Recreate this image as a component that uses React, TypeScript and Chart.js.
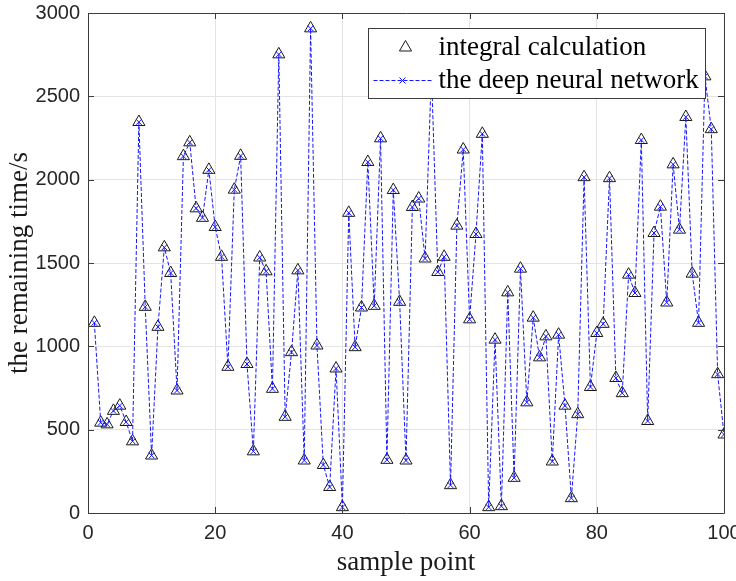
import React, { useEffect, useRef } from 'react';
import { Chart, registerables } from 'chart.js';

Chart.register(...registerables);

// Remaining time (s) from integral calculation, sample points 1..100
const integralValues: number[] = [
  1141, 542, 532, 613, 644, 546, 430, 2346, 1237, 345,
  1117, 1594, 1440, 735, 2141, 2224, 1828, 1771, 2059, 1716,
  1537, 877, 1940, 2143, 894, 370, 1533, 1450, 745, 2752,
  577, 965, 1456, 315, 2908, 1005, 288, 156, 867, 35,
  1801, 995, 1233, 2106, 1243, 2248, 319, 1938, 1267, 315,
  1836, 1887, 1527, 2650, 1446, 1537, 167, 1724, 2181, 1162,
  1674, 2275, 35, 1040, 41, 1324, 211, 1466, 664, 1172,
  934, 1060, 309, 1070, 644, 89, 593, 2015, 756, 1080,
  1135, 2009, 810, 719, 1430, 1320, 2238, 552, 1680, 1838,
  1263, 2092, 1700, 2376, 1436, 1141, 2620, 2303, 833, 471,
];

// Remaining time (s) predicted by the deep neural network
const networkValues: number[] = [
  1141, 542, 532, 613, 644, 546, 430, 2346, 1237, 345,
  1117, 1594, 1440, 735, 2141, 2224, 1828, 1771, 2059, 1716,
  1537, 877, 1940, 2143, 894, 370, 1533, 1450, 745, 2752,
  577, 965, 1456, 315, 2908, 1005, 288, 156, 867, 35,
  1801, 995, 1233, 2106, 1243, 2248, 319, 1938, 1267, 315,
  1836, 1887, 1527, 2650, 1446, 1537, 167, 1724, 2181, 1162,
  1674, 2275, 35, 1040, 41, 1324, 211, 1466, 664, 1172,
  934, 1060, 309, 1070, 644, 89, 593, 2015, 756, 1080,
  1135, 2009, 810, 719, 1430, 1320, 2238, 552, 1680, 1838,
  1263, 2092, 1700, 2376, 1436, 1141, 2620, 2303, 833, 471,
];

const samplePoints: number[] = integralValues.map((_, i) => i + 1);

const xTicks: number[] = [0, 20, 40, 60, 80, 100];
const yTicks: number[] = [0, 500, 1000, 1500, 2000, 2500, 3000];

const seriesLabels: string[] = ['integral calculation', 'the deep neural network'];
const xTitle = 'sample point';
const yTitle = 'the remaining time/s';

const AXIS_COLOR = '#3c3c3c';
const TEXT_COLOR = '#262626';
const LINE_BLUE = 'rgb(20,20,255)';
const SERIF = '"Liberation Serif", "Times New Roman", serif';
const SANS = '"Liberation Sans", Arial, sans-serif';

const framePlugin = {
  id: 'matlabFrame',
  afterDatasetsDraw(chart: any) {
    const { ctx, chartArea, scales } = chart;
    const { left, right, top, bottom } = chartArea;
    ctx.save();
    // box
    ctx.strokeStyle = AXIS_COLOR;
    ctx.lineWidth = 1;
    ctx.beginPath();
    ctx.rect(Math.round(left) + 0.5, Math.round(top) + 0.5, Math.round(right - left), Math.round(bottom - top));
    ctx.stroke();
    // inward ticks
    const tl = 6;
    ctx.beginPath();
    xTicks.forEach((v) => {
      const px = Math.round(scales.x.getPixelForValue(v)) + 0.5;
      ctx.moveTo(px, bottom);
      ctx.lineTo(px, bottom - tl);
      ctx.moveTo(px, top);
      ctx.lineTo(px, top + tl);
    });
    yTicks.forEach((v) => {
      const py = Math.round(scales.y.getPixelForValue(v)) + 0.5;
      ctx.moveTo(left, py);
      ctx.lineTo(left + tl, py);
      ctx.moveTo(right, py);
      ctx.lineTo(right - tl, py);
    });
    ctx.stroke();

    // legend box
    const bw = 337;
    const bh = 70;
    const bx = Math.round(right - 19 - bw) + 0.5;
    const by = Math.round(top + 15) + 0.5;
    ctx.fillStyle = '#ffffff';
    ctx.fillRect(bx, by, bw, bh);
    ctx.strokeStyle = AXIS_COLOR;
    ctx.lineWidth = 1;
    ctx.strokeRect(bx, by, bw, bh);

    const row1 = by + 19;
    const row2 = by + 52;
    // triangle swatch
    const tx = bx + 37;
    const r = 7;
    ctx.strokeStyle = '#1a1a1a';
    ctx.beginPath();
    for (let k = 0; k < 3; k++) {
      const a = (k * 2 * Math.PI) / 3;
      const px = tx + Math.sin(a) * r;
      const py = row1 - Math.cos(a) * r;
      if (k === 0) ctx.moveTo(px, py);
      else ctx.lineTo(px, py);
    }
    ctx.closePath();
    ctx.stroke();
    // dashed line swatch with x marker
    ctx.strokeStyle = LINE_BLUE;
    ctx.setLineDash([4, 2]);
    ctx.beginPath();
    ctx.moveTo(bx + 5, row2);
    ctx.lineTo(bx + 64, row2);
    ctx.stroke();
    ctx.setLineDash([]);
    const cx = bx + 34;
    const s = 3;
    ctx.beginPath();
    ctx.moveTo(cx - s, row2 - s);
    ctx.lineTo(cx + s, row2 + s);
    ctx.moveTo(cx - s, row2 + s);
    ctx.lineTo(cx + s, row2 - s);
    ctx.stroke();
    // texts
    ctx.fillStyle = '#000000';
    ctx.font = '27px ' + SERIF;
    ctx.textAlign = 'left';
    ctx.textBaseline = 'middle';
    ctx.fillText(seriesLabels[0], bx + 70, row1);
    ctx.fillText(seriesLabels[1], bx + 70, row2);
    ctx.restore();
  },
};

export default function App() {
  const canvasRef = useRef<HTMLCanvasElement | null>(null);

  useEffect(() => {
    document.body.style.margin = '0';
    const canvas = canvasRef.current;
    if (!canvas) return;
    const chart = new Chart(canvas, {
      type: 'line',
      data: {
        datasets: [
          {
            label: seriesLabels[1],
            data: samplePoints.map((x, i) => ({ x, y: networkValues[i] })),
            borderColor: LINE_BLUE,
            borderWidth: 1,
            borderDash: [4, 2],
            fill: false,
            tension: 0,
            pointStyle: 'crossRot',
            pointRadius: 4,
            pointBorderColor: LINE_BLUE,
            pointBorderWidth: 1,
            pointBackgroundColor: LINE_BLUE,
            order: 1,
          },
          {
            label: seriesLabels[0],
            data: samplePoints.map((x, i) => ({ x, y: integralValues[i] })),
            showLine: false,
            pointStyle: 'triangle',
            pointRadius: 7,
            pointBorderColor: '#1a1a1a',
            pointBackgroundColor: 'rgba(0,0,0,0)',
            pointBorderWidth: 1,
            order: 2,
          },
        ],
      },
      options: {
        animation: false,
        responsive: false,
        events: [],
        layout: { padding: { left: 0, right: 12, top: 13, bottom: 0 } },
        plugins: {
          legend: { display: false },
          tooltip: { enabled: false },
        },
        scales: {
          x: {
            type: 'linear',
            min: 0,
            max: 100,
            afterBuildTicks: (scale: any) => {
              scale.ticks = xTicks.map((v) => ({ value: v }));
            },
            ticks: {
              font: { family: SANS, size: 20 },
              color: TEXT_COLOR,
              padding: 8,
              maxRotation: 0,
              autoSkip: false,
              callback: (v: any) => String(v),
            },
            grid: { color: '#e4e4e4', drawTicks: false, lineWidth: 1 },
            border: { display: false },
            title: {
              display: true,
              text: xTitle,
              color: '#1a1a1a',
              font: { family: SERIF, size: 27 },
              padding: { top: 0, bottom: 2 },
            },
            afterFit: (scale: any) => {
              scale.height = 68;
              scale.paddingLeft = 0;
              scale.paddingRight = 0;
            },
          },
          y: {
            type: 'linear',
            min: 0,
            max: 3000,
            afterBuildTicks: (scale: any) => {
              scale.ticks = yTicks.map((v) => ({ value: v }));
            },
            ticks: {
              font: { family: SANS, size: 20 },
              color: TEXT_COLOR,
              padding: 8,
              autoSkip: false,
              callback: (v: any) => String(v),
            },
            grid: { color: '#e4e4e4', drawTicks: false, lineWidth: 1 },
            border: { display: false },
            title: {
              display: true,
              text: yTitle,
              color: '#1a1a1a',
              font: { family: SERIF, size: 27 },
              padding: { top: 4, bottom: 0 },
            },
            afterFit: (scale: any) => {
              scale.width = 88;
              scale.paddingTop = 0;
              scale.paddingBottom = 0;
            },
          },
        },
      },
      plugins: [framePlugin],
    });
    return () => chart.destroy();
  }, []);

  return <canvas ref={canvasRef} width={736} height={581} style={{ display: 'block' }} />;
}
